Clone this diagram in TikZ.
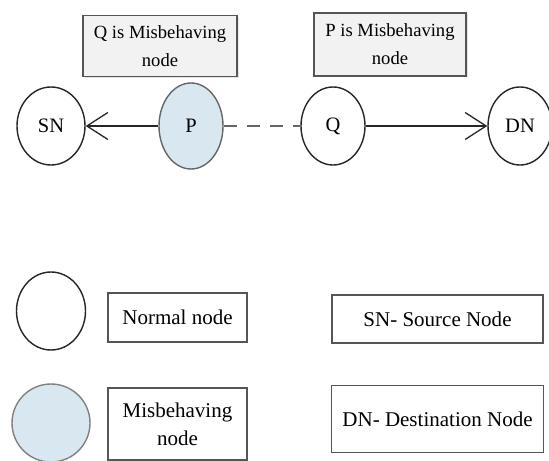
\documentclass[tikz,border=0pt]{standalone}
\usepackage{fontspec}
\setmainfont{Liberation Serif}
\usetikzlibrary{shapes.geometric,arrows.meta,shadows}
\definecolor{misblue}{RGB}{217,232,240}
\definecolor{boxgray}{RGB}{242,242,242}
\definecolor{edgegray}{RGB}{85,85,85}
\newcommand{\lblfont}{\fontsize{20.5bp}{24bp}\selectfont}
\newcommand{\topfont}{\fontsize{18.6bp}{28bp}\selectfont}
\newcommand{\legfont}{\fontsize{21bp}{28bp}\selectfont}
\begin{document}
\begin{tikzpicture}[x=1bp,y=-1bp,
  nnode/.style={ellipse, draw=black!85, line width=1.4bp, fill=white, inner sep=0pt, font=\lblfont},
  mnode/.style={nnode, fill=misblue, draw=black!60},
  topbox/.style={rectangle, draw=edgegray, line width=1.1bp, fill=boxgray, inner sep=0pt, align=center, font=\topfont,
     drop shadow={opacity=0.2, shadow xshift=1.5bp, shadow yshift=-1.5bp}},
  legbox/.style={rectangle, draw=edgegray, line width=1.1bp, fill=white, inner sep=0pt, align=center, font=\legfont},
  arr/.style={line width=1.3bp, draw=black!85, -{Straight Barb[length=21bp,width=27bp]}},
  dashline/.style={line width=1.2bp, draw=black!60, dash pattern=on 13bp off 10bp}
]
\useasboundingbox (0,0) rectangle (549,461);
\clip (0,0) rectangle (549,461);
\fill[white] (0,0) rectangle (549,461);

% top explanation boxes
\node[topbox, minimum width=154bp, minimum height=61bp] (boxq) at (160,46) {Q is Misbehaving\\node};
\node[topbox, minimum width=152bp, minimum height=63bp] (boxp) at (390,44.5) {P is Misbehaving\\node};

% main row
\node[nnode, minimum width=68bp, minimum height=78bp] (sn) at (51,126) {SN};
\node[mnode, minimum width=64bp, minimum height=86bp] (p) at (191,126) {P};
\node[nnode, minimum width=64bp, minimum height=78bp] (q) at (333,126) {Q};
\node[nnode, minimum width=64bp, minimum height=78bp] (dn) at (520,126) {DN};

\draw[arr] (p) -- (sn);
\draw[dashline] (p) -- (q);
\draw[arr] (q) -- (dn);

% legend
\node[nnode, minimum width=69bp, minimum height=78bp] (legn) at (51,311) {};
\node[legbox, minimum width=139bp, minimum height=49bp] (legnt) at (177.5,317.5) {Normal node};
\node[mnode, draw=black!50, minimum width=78bp, minimum height=78bp] (legm) at (51,423) {};
\node[legbox, minimum width=139bp, minimum height=72bp] (legmt) at (177.5,424) {Misbehaving\\node};
\node[legbox, minimum width=211bp, minimum height=48bp] (legsn) at (437.5,319) {SN- Source Node};
\node[legbox, minimum width=212bp, minimum height=67bp] (legdn) at (437.5,419) {DN- Destination Node};
\end{tikzpicture}
\end{document}
